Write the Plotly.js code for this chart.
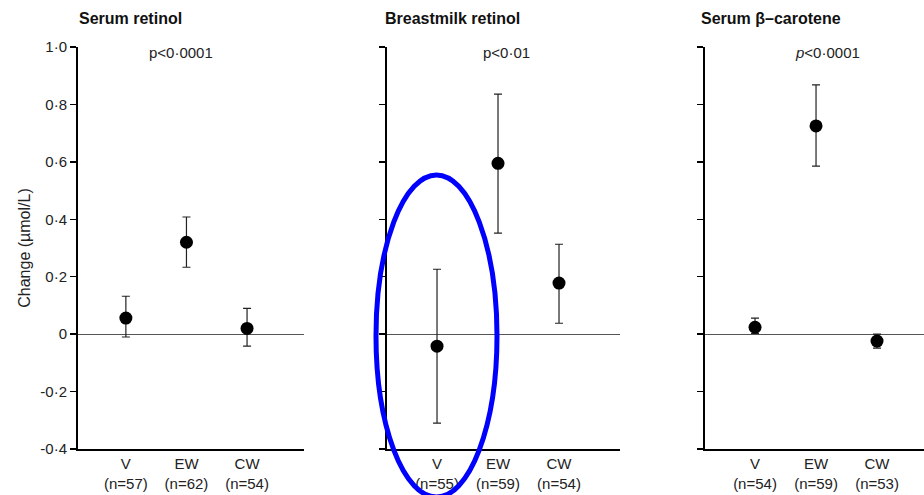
<!DOCTYPE html>
<html>
<head>
<meta charset="utf-8">
<script src="https://cdn.plot.ly/plotly-3.0.1.min.js"></script>
<style>html,body{margin:0;padding:0;background:#fff;}#chart{width:924px;height:495px;}</style>
</head>
<body>
<div id="chart"></div>
<script>
// ---- data ----
const panelTitles = ["Serum retinol", "Breastmilk retinol", "Serum β–carotene"];
const pValues = ["p<0·0001", "p<0·01", "<i>p</i><0·0001"];
const groups = ["V", "EW", "CW"];
const nSerumRetinol = [57, 62, 54];
const nBreastmilk = [55, 59, 54];
const nCarotene = [54, 59, 53];

const meanSerumRetinol = [0.056, 0.320, 0.020];
const upperSerumRetinol = [0.132, 0.408, 0.090];
const lowerSerumRetinol = [-0.010, 0.233, -0.042];

const meanBreastmilk = [-0.042, 0.595, 0.178];
const upperBreastmilk = [0.226, 0.836, 0.313];
const lowerBreastmilk = [-0.310, 0.352, 0.038];

const meanCarotene = [0.024, 0.725, -0.024];
const upperCarotene = [0.056, 0.868, 0.000];
const lowerCarotene = [0.003, 0.585, -0.049];

const yTickVals = [-0.4, -0.2, 0, 0.2, 0.4, 0.6, 0.8, 1.0];
const yTickText = ["-0·4", "-0·2", "0", "0·2", "0·4", "0·6", "0·8", "1·0"];

// ---- build ----
const W = 924, H = 495;
const FONT = "Liberation Sans, Arial, sans-serif";
const panels = [
  {n: nSerumRetinol, m: meanSerumRetinol, u: upperSerumRetinol, l: lowerSerumRetinol,
   px0: 78, px1: 304, range: [-0.79, 2.94], titleX: 77, pX: 181},
  {n: nBreastmilk, m: meanBreastmilk, u: upperBreastmilk, l: lowerBreastmilk,
   px0: 387, px1: 620, range: [-0.82, 3.0], titleX: 383, pX: 506},
  {n: nCarotene, m: meanCarotene, u: upperCarotene, l: lowerCarotene,
   px0: 705, px1: 924, range: [-0.82, 2.77], titleX: 699, pX: 827}
];
const yDomain = [1 - 449 / H, 1 - 47 / H];

const traces = [];
const layout = {
  width: W, height: H,
  margin: {l: 0, r: 0, t: 0, b: 0},
  paper_bgcolor: "#fff", plot_bgcolor: "#fff",
  showlegend: false,
  font: {family: FONT, color: "#111", size: 14},
  annotations: [], shapes: []
};

panels.forEach((p, i) => {
  const k = i === 0 ? "" : String(i + 1);
  const xs = groups.map((g, j) => j);
  traces.push({
    type: "scatter", mode: "markers",
    x: xs, y: p.m,
    xaxis: "x" + k, yaxis: "y" + k,
    marker: {color: "#000", size: 13},
    error_y: {
      type: "data", symmetric: false,
      array: p.m.map((v, j) => p.u[j] - v),
      arrayminus: p.m.map((v, j) => v - p.l[j]),
      color: "#222", thickness: 1.2, width: 4
    },
    cliponaxis: false,
    hoverinfo: "skip"
  });
  layout["xaxis" + k] = {
    domain: [p.px0 / W, Math.min(p.px1 / W, 1)],
    range: p.range,
    anchor: "y" + k,
    tickvals: xs,
    ticktext: groups.map((g, j) => g + "<br>(n=" + p.n[j] + ")"),
    ticks: "", showgrid: false, zeroline: false,
    showline: true, linecolor: "#000", linewidth: 2,
    tickfont: {family: FONT, size: 15, color: "#222"},
    fixedrange: true
  };
  layout["yaxis" + k] = {
    domain: yDomain,
    range: [-0.4, 1.0],
    anchor: "x" + k,
    tickvals: yTickVals,
    ticktext: i === 0 ? yTickText : yTickVals.map(() => ""),
    ticks: "outside", ticklen: 6, tickwidth: 1.5, tickcolor: "#000",
    showgrid: false,
    zeroline: true, zerolinecolor: "#555", zerolinewidth: 1,
    showline: true, linecolor: "#000", linewidth: 2,
    tickfont: {family: FONT, size: 15, color: "#222"},
    fixedrange: true
  };
  if (i === 0) {
    layout.yaxis.title = {text: "Change (µmol/L)", font: {family: FONT, size: 16, color: "#222"}, standoff: 6};
  }
  layout.annotations.push({
    xref: "paper", yref: "paper",
    x: p.titleX / W, y: 1 - 18 / H,
    xanchor: "left", yanchor: "middle",
    text: "<b>" + panelTitles[i] + "</b>", showarrow: false,
    font: {family: FONT, size: 16, color: "#111"}
  });
  layout.annotations.push({
    xref: "paper", yref: "paper",
    x: p.pX / W, y: 1 - 52 / H,
    xanchor: "center", yanchor: "middle",
    text: pValues[i], showarrow: false,
    font: {family: FONT, size: 15, color: "#222"}
  });
});

// highlight ellipse around Breastmilk retinol V group
layout.shapes.push({
  type: "circle", xref: "paper", yref: "paper",
  x0: 376 / W, x1: 497 / W, y0: 1 - 497 / H, y1: 1 - 175 / H,
  line: {color: "#0000ff", width: 5}, layer: "above"
});

Plotly.newPlot("chart", traces, layout, {staticPlot: true});
</script>
</body>
</html>
